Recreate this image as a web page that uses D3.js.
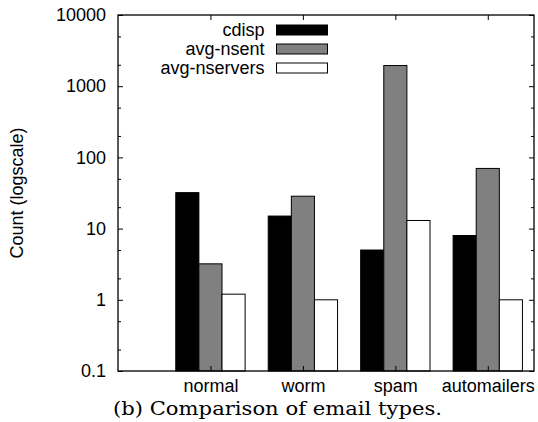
<!DOCTYPE html>
<html>
<head>
<meta charset="utf-8">
<script src="https://cdn.jsdelivr.net/npm/d3@7"></script>
<style>
  body { margin: 0; background: #fff; }
  text { font-family: "Liberation Sans", Arial, sans-serif; }
</style>
</head>
<body>
<div id="chart"></div>
<script>
// Data.
const categories = ["normal", "worm", "spam", "automailers"];
const series_names = ["cdisp", "avg-nsent", "avg-nservers"];
const cdisp = [32, 15, 5, 8];
const avg_nsent = [3.2, 28.5, 1950, 70];
const avg_nservers = [1.2, 1, 13, 1];
const y_ticks = [0.1, 1, 10, 100, 1000, 10000];
const series_colors = ["#000000", "#808080", "#ffffff"];

const series_values = [cdisp, avg_nsent, avg_nservers];

let width = 538, height = 422;
let margin = {top: 15, right: 4, bottom: 51, left: 118};
let plot_w = width - margin.left - margin.right,
    plot_h = height - margin.top - margin.bottom;

let svg = d3.select("#chart")
.append("svg")
.attr("width", width)
.attr("height", height);

let g = svg.append("g")
.attr("transform", "translate(" + margin.left + "," + margin.top + ")");

// x runs over category index, gnuplot-like range [-1, 3.5]
let x = d3.scaleLinear()
.domain([-1, 3.5])
.range([0, plot_w]);

let y = d3.scaleLog()
.domain([0.1, 10000])
.range([plot_h, 0]);

let bar_w = 0.25;

// Bars
series_values.forEach((vals, s) => {
  g.append("g")
  .selectAll("rect")
  .data(vals)
  .enter()
  .append("rect")
  .attr("x", (d, i) => x(i + (s - 1.5) * bar_w))
  .attr("y", d => y(d))
  .attr("width", x(bar_w) - x(0))
  .attr("height", d => plot_h - y(d))
  .style("fill", series_colors[s])
  .style("stroke", "#000")
  .style("stroke-width", 1);
});

// Minor ticks at 2 and 5 of each decade
let minor = [];
y_ticks.slice(0, -1).forEach(t => { minor.push(t * 2, t * 5); });

// Left axis
g.append("g")
.call(d3.axisLeft(y).tickValues(y_ticks).tickFormat(d => String(d)).tickSizeInner(-5).tickSizeOuter(0).tickPadding(12))
.call(a => a.select(".domain").remove())
.call(a => a.selectAll("text").style("font-size", "18px").attr("fill", "#000"));

g.append("g")
.call(d3.axisLeft(y).tickValues(minor).tickFormat("").tickSizeInner(-3).tickSizeOuter(0))
.select(".domain").remove();

// Right axis (mirror)
g.append("g")
.attr("transform", "translate(" + plot_w + ",0)")
.call(d3.axisRight(y).tickValues(y_ticks).tickFormat("").tickSizeInner(-5).tickSizeOuter(0))
.select(".domain").remove();

g.append("g")
.attr("transform", "translate(" + plot_w + ",0)")
.call(d3.axisRight(y).tickValues(minor).tickFormat("").tickSizeInner(-3).tickSizeOuter(0))
.select(".domain").remove();

// Bottom axis labels
g.append("g")
.attr("transform", "translate(0," + plot_h + ")")
.call(d3.axisBottom(x).tickValues(d3.range(categories.length)).tickFormat(i => categories[i]).tickSizeInner(-5).tickSizeOuter(0).tickPadding(8))
.call(a => a.select(".domain").remove())
.call(a => a.selectAll("text").style("font-size", "18px").attr("fill", "#000"));

// Top axis (mirror)
g.append("g")
.call(d3.axisTop(x).tickValues(d3.range(categories.length)).tickFormat("").tickSizeInner(-5).tickSizeOuter(0))
.select(".domain").remove();

// Frame
g.append("rect")
.attr("width", plot_w)
.attr("height", plot_h)
.style("fill", "none")
.style("stroke", "#000")
.style("stroke-width", 1.3);

// Legend
let legend = g.append("g").attr("transform", "translate(" + (264.5 - margin.left) + ",0)");
series_names.forEach((name, s) => {
  let row = legend.append("g").attr("transform", "translate(0," + (15 + s * 19) + ")");
  row.append("text")
  .attr("x", 0)
  .attr("y", 6)
  .attr("text-anchor", "end")
  .style("font-size", "18px")
  .text(name);
  row.append("rect")
  .attr("x", 12)
  .attr("y", -5)
  .attr("width", 51)
  .attr("height", 10)
  .style("fill", series_colors[s])
  .style("stroke", "#000")
  .style("stroke-width", 1);
});

// Y label
svg.append("text")
.attr("transform", "translate(23," + (margin.top + plot_h / 2) + ") rotate(-90)")
.attr("text-anchor", "middle")
.style("font-size", "18px")
.text("Count (logscale)");

// Caption
svg.append("text")
.attr("x", 113)
.attr("y", 415)
.attr("textLength", 329)
.attr("lengthAdjust", "spacingAndGlyphs")
.style("font-family", "'DejaVu Serif', 'Liberation Serif', serif")
.style("font-size", "19px")
.text("(b) Comparison of email types.");
</script>
</body>
</html>
